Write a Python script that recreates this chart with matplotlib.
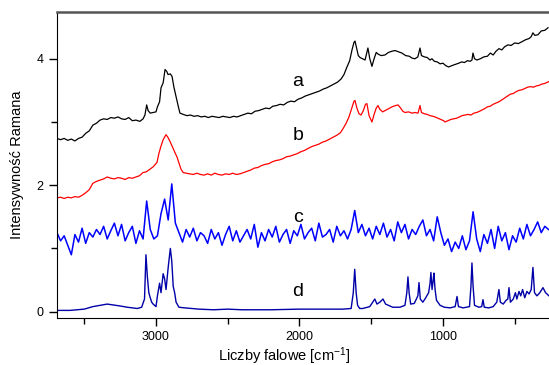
import numpy as np
import matplotlib
matplotlib.use("Agg")
import matplotlib.pyplot as plt

plt.rcParams['mathtext.fontset'] = 'custom'
plt.rcParams['mathtext.rm'] = 'Liberation Sans'
plt.rcParams['mathtext.it'] = 'Liberation Sans'

# widma ramanowskie a-d
a_x = [3690, 3665, 3640, 3615, 3590, 3565, 3540, 3515, 3490, 3465, 3440, 3415, 3390, 3365, 3340,
       3315, 3290, 3265, 3240, 3215, 3190, 3165, 3140, 3112, 3090, 3077, 3065, 3055, 3040, 3020,
       3000, 2990, 2975, 2965, 2950, 2937, 2925, 2916, 2900, 2888, 2875, 2860, 2845, 2833, 2810,
       2784, 2760, 2735, 2710, 2685, 2660, 2635, 2610, 2585, 2560, 2535, 2510, 2485, 2460, 2435,
       2410, 2385, 2360, 2335, 2310, 2285, 2260, 2235, 2210, 2185, 2160, 2135, 2110, 2085, 2060,
       2035, 2010, 1985, 1960, 1935, 1910, 1885, 1860, 1835, 1810, 1785, 1760, 1735, 1710, 1690,
       1669, 1650, 1634, 1620, 1613, 1600, 1590, 1578, 1560, 1543, 1530, 1523, 1510, 1495, 1480,
       1465, 1450, 1430, 1404, 1380, 1355, 1334, 1310, 1286, 1260, 1235, 1215, 1195, 1175, 1160,
       1150, 1130, 1110, 1090, 1077, 1060, 1040, 1020, 1000, 980, 960, 940, 915, 890, 870,
       850, 830, 810, 798, 791, 780, 763, 740, 715, 690, 670, 650, 630, 610, 590,
       570, 547, 525, 500, 475, 449, 425, 400, 385, 373, 360, 338, 315, 290, 268]
a_y = [2.74, 2.72, 2.74, 2.71, 2.73, 2.70, 2.74, 2.76, 2.82, 2.86, 2.95, 2.98, 3.03, 3.05, 3.04,
       3.07, 3.06, 3.08, 3.05, 3.04, 3.07, 3.02, 3.03, 3.01, 3.05, 3.11, 3.27, 3.18, 3.14, 3.15,
       3.16, 3.24, 3.32, 3.54, 3.62, 3.83, 3.80, 3.75, 3.76, 3.72, 3.55, 3.40, 3.25, 3.14, 3.12,
       3.10, 3.11, 3.09, 3.10, 3.08, 3.09, 3.07, 3.09, 3.08, 3.07, 3.09, 3.08, 3.07, 3.09, 3.08,
       3.10, 3.12, 3.14, 3.13, 3.17, 3.18, 3.20, 3.22, 3.21, 3.25, 3.26, 3.28, 3.27, 3.31, 3.33,
       3.32, 3.36, 3.38, 3.41, 3.43, 3.45, 3.47, 3.49, 3.52, 3.54, 3.57, 3.60, 3.63, 3.68, 3.75,
       3.87, 3.97, 4.14, 4.26, 4.28, 4.15, 4.05, 4.02, 4.00, 3.98, 4.10, 4.17, 4.00, 3.88, 4.00,
       4.10, 4.07, 4.05, 4.06, 4.10, 4.12, 4.13, 4.11, 4.09, 4.05, 4.04, 4.01, 4.00, 4.03, 4.17,
       4.05, 4.03, 4.02, 3.98, 4.00, 3.96, 3.95, 3.92, 3.93, 3.89, 3.87, 3.89, 3.91, 3.93, 3.95,
       3.94, 3.97, 3.96, 3.98, 4.09, 4.00, 3.98, 4.00, 4.03, 4.04, 4.09, 4.06, 4.12, 4.16, 4.14,
       4.19, 4.22, 4.21, 4.25, 4.24, 4.27, 4.30, 4.32, 4.35, 4.41, 4.37, 4.38, 4.44, 4.45, 4.49]

b_x = [3690, 3665, 3640, 3615, 3590, 3565, 3540, 3515, 3490, 3465, 3440, 3415, 3390, 3365, 3340,
       3315, 3290, 3265, 3240, 3215, 3190, 3165, 3140, 3115, 3091, 3070, 3050, 3020, 2993, 2980,
       2965, 2950, 2930, 2915, 2902, 2880, 2865, 2854, 2840, 2825, 2810, 2790, 2763, 2740, 2715,
       2690, 2665, 2640, 2615, 2590, 2565, 2540, 2515, 2490, 2465, 2440, 2415, 2390, 2365, 2340,
       2315, 2290, 2265, 2240, 2215, 2190, 2165, 2140, 2115, 2090, 2065, 2040, 2015, 1990, 1965,
       1941, 1915, 1890, 1865, 1840, 1815, 1790, 1765, 1740, 1715, 1695, 1675, 1655, 1635, 1620,
       1613, 1600, 1585, 1571, 1555, 1540, 1530, 1515, 1495, 1480, 1465, 1453, 1440, 1420, 1404,
       1380, 1355, 1330, 1313, 1295, 1280, 1265, 1240, 1215, 1195, 1174, 1160, 1150, 1130, 1110,
       1090, 1070, 1056, 1035, 1015, 995, 986, 965, 945, 925, 905, 885, 867, 845, 825,
       805, 785, 765, 745, 728, 710, 690, 670, 650, 630, 610, 589, 570, 550, 530,
       510, 490, 470, 449, 430, 410, 390, 370, 350, 330, 310, 290, 261]
b_y = [1.80, 1.81, 1.79, 1.81, 1.80, 1.82, 1.81, 1.84, 1.88, 1.93, 2.03, 2.06, 2.08, 2.10, 2.13,
       2.11, 2.10, 2.12, 2.11, 2.09, 2.12, 2.11, 2.13, 2.15, 2.20, 2.21, 2.24, 2.29, 2.36, 2.50,
       2.62, 2.72, 2.80, 2.75, 2.69, 2.58, 2.50, 2.45, 2.35, 2.25, 2.20, 2.19, 2.18, 2.17, 2.19,
       2.17, 2.16, 2.18, 2.16, 2.19, 2.17, 2.16, 2.18, 2.17, 2.19, 2.17, 2.18, 2.20, 2.22, 2.24,
       2.27, 2.28, 2.31, 2.33, 2.34, 2.37, 2.39, 2.40, 2.42, 2.45, 2.46, 2.48, 2.50, 2.53, 2.55,
       2.58, 2.61, 2.63, 2.65, 2.68, 2.70, 2.73, 2.76, 2.79, 2.83, 2.90, 2.98, 3.08, 3.22, 3.33,
       3.34, 3.22, 3.13, 3.11, 3.18, 3.28, 3.29, 3.10, 3.00, 3.12, 3.22, 3.26, 3.20, 3.16, 3.18,
       3.21, 3.24, 3.26, 3.27, 3.22, 3.17, 3.15, 3.16, 3.14, 3.15, 3.14, 3.26, 3.15, 3.13, 3.12,
       3.10, 3.09, 3.08, 3.06, 3.04, 3.02, 3.00, 3.02, 3.04, 3.05, 3.06, 3.08, 3.10, 3.11, 3.12,
       3.11, 3.14, 3.15, 3.17, 3.19, 3.21, 3.24, 3.25, 3.28, 3.30, 3.32, 3.35, 3.38, 3.41, 3.44,
       3.45, 3.48, 3.50, 3.51, 3.53, 3.55, 3.56, 3.55, 3.57, 3.58, 3.60, 3.61, 3.64]

# c: co 25 cm-1 od 3690 do 265
c_x = np.arange(3690, 264, -25)
c_y = [1.25, 1.12, 1.20, 1.05, 0.90, 1.22, 1.10, 1.32, 1.08, 1.25,
       1.18, 1.30, 1.22, 1.35, 1.15, 1.28, 1.40, 1.20, 1.38, 1.12,
       1.25, 1.35, 1.08, 1.28, 1.15, 1.75, 1.30, 1.15, 1.20, 1.55,
       1.78, 1.45, 2.02, 1.40, 1.25, 1.10, 1.30, 1.18, 1.32, 1.12,
       1.25, 1.20, 1.08, 1.30, 1.15, 1.25, 1.05, 1.22, 1.35, 1.12,
       1.28, 1.10, 1.20, 1.30, 1.15, 1.38, 1.02, 1.25, 1.12, 1.30,
       1.18, 1.35, 1.10, 1.22, 1.30, 1.08, 1.28, 1.20, 1.38, 1.15,
       1.25, 1.32, 1.12, 1.40, 1.18, 1.22, 1.30, 1.10, 1.35, 1.20,
       1.28, 1.15, 1.30, 1.60, 1.25, 1.38, 1.20, 1.32, 1.15, 1.35,
       1.22, 1.40, 1.18, 1.30, 1.12, 1.42, 1.25, 1.38, 1.15, 1.30,
       1.22, 1.35, 1.45, 1.20, 1.30, 1.12, 1.50, 1.25, 1.05, 1.15,
       0.95, 1.10, 1.00, 1.20, 0.98, 1.12, 1.58, 1.15, 0.95, 1.22,
       1.08, 1.30, 1.00, 1.35, 1.12, 1.25, 0.98, 1.20, 1.10, 1.32,
       1.15, 1.38, 1.20, 1.30, 1.42, 1.25, 1.35, 1.30]

d_x = [3690, 3600, 3500, 3440, 3340, 3250, 3200, 3130, 3100, 3080, 3070, 3060, 3050, 3040, 3030,
       3020, 3000, 2990, 2975, 2965, 2950, 2940, 2930, 2915, 2900, 2890, 2880, 2870, 2860, 2840,
       2800, 2700, 2600, 2500, 2400, 2200, 2000, 1800, 1700, 1640, 1625, 1615, 1605, 1595, 1580,
       1560, 1510, 1475, 1460, 1440, 1418, 1400, 1350, 1300, 1265, 1252, 1244, 1236, 1225, 1200,
       1175, 1167, 1158, 1140, 1120, 1100, 1090, 1084, 1076, 1068, 1063, 1055, 1045, 1020, 990,
       950, 915, 902, 892, 860, 815, 805, 798, 790, 780, 750, 730, 721, 712, 680,
       650, 625, 610, 600, 580, 560, 548, 540, 530, 510, 495, 485, 470, 458, 445,
       430, 415, 400, 385, 373, 362, 345, 325, 303, 285, 261]
d_y = [0.02, 0.02, 0.04, 0.08, 0.12, 0.09, 0.07, 0.05, 0.07, 0.20, 0.90, 0.55, 0.30, 0.22, 0.15,
       0.12, 0.08, 0.25, 0.45, 0.30, 0.60, 0.52, 0.35, 0.70, 1.00, 0.80, 0.40, 0.30, 0.15, 0.07,
       0.06, 0.04, 0.03, 0.04, 0.03, 0.03, 0.04, 0.04, 0.04, 0.05, 0.30, 0.67, 0.30, 0.10, 0.05,
       0.05, 0.08, 0.20, 0.12, 0.15, 0.20, 0.12, 0.07, 0.07, 0.10, 0.30, 0.55, 0.30, 0.12, 0.13,
       0.25, 0.46, 0.20, 0.15, 0.22, 0.30, 0.45, 0.62, 0.35, 0.50, 0.61, 0.35, 0.18, 0.10, 0.07,
       0.06, 0.08, 0.24, 0.08, 0.06, 0.08, 0.40, 0.77, 0.40, 0.10, 0.07, 0.08, 0.19, 0.07, 0.06,
       0.08, 0.15, 0.35, 0.15, 0.12, 0.18, 0.20, 0.38, 0.15, 0.20, 0.30, 0.20, 0.32, 0.25, 0.35,
       0.22, 0.32, 0.28, 0.35, 0.70, 0.30, 0.25, 0.30, 0.38, 0.30, 0.25]

labels = ['a', 'b', 'c', 'd']
label_y = [3.64, 2.78, 1.49, 0.32]

fig = plt.figure(figsize=(5.49, 3.65), dpi=100)
ax = fig.add_axes([0.1038, 0.1288, 0.8962, 0.8384])

ax.plot(a_x, a_y, color='black', lw=0.9)
ax.plot(b_x, b_y, color='#ff0000', lw=0.9)
ax.plot(c_x, c_y, color='#0000ff', lw=1.1)
ax.plot(d_x, d_y, color='#0000a8', lw=1.0)

for lab, ly in zip(labels, label_y):
    ax.text(2010, ly, lab, fontsize=14, ha='center', va='center', family='Liberation Sans')

ax.set_xlim(3690, 261)
ax.set_ylim(-0.1, 4.74)
ax.set_xticks([3000, 2000, 1000])
ax.set_xticks([3500, 2500, 1500, 500], minor=True)
ax.set_yticks([0, 2, 4])
ax.set_yticks([1, 3], minor=True)
ax.tick_params(which='both', direction='out', labelsize=9, width=1)
ax.tick_params(which='major', length=6)
ax.tick_params(which='minor', length=4)
for t in ax.get_xticklabels() + ax.get_yticklabels():
    t.set_family('Liberation Sans')

ax.spines['right'].set_visible(False)
ax.spines['top'].set_color('#555555')
ax.spines['top'].set_linewidth(1.8)

ax.set_xlabel('Liczby falowe [cm$^{-1}$]', fontsize=10.5, family='Liberation Sans')
ax.set_ylabel('Intensywność Ramana', fontsize=10.5, family='Liberation Sans')
ax.xaxis.set_label_coords(0.463, -0.088)
ax.yaxis.set_label_coords(-0.068, 0.5)

fig.savefig('out.png', dpi=100)
